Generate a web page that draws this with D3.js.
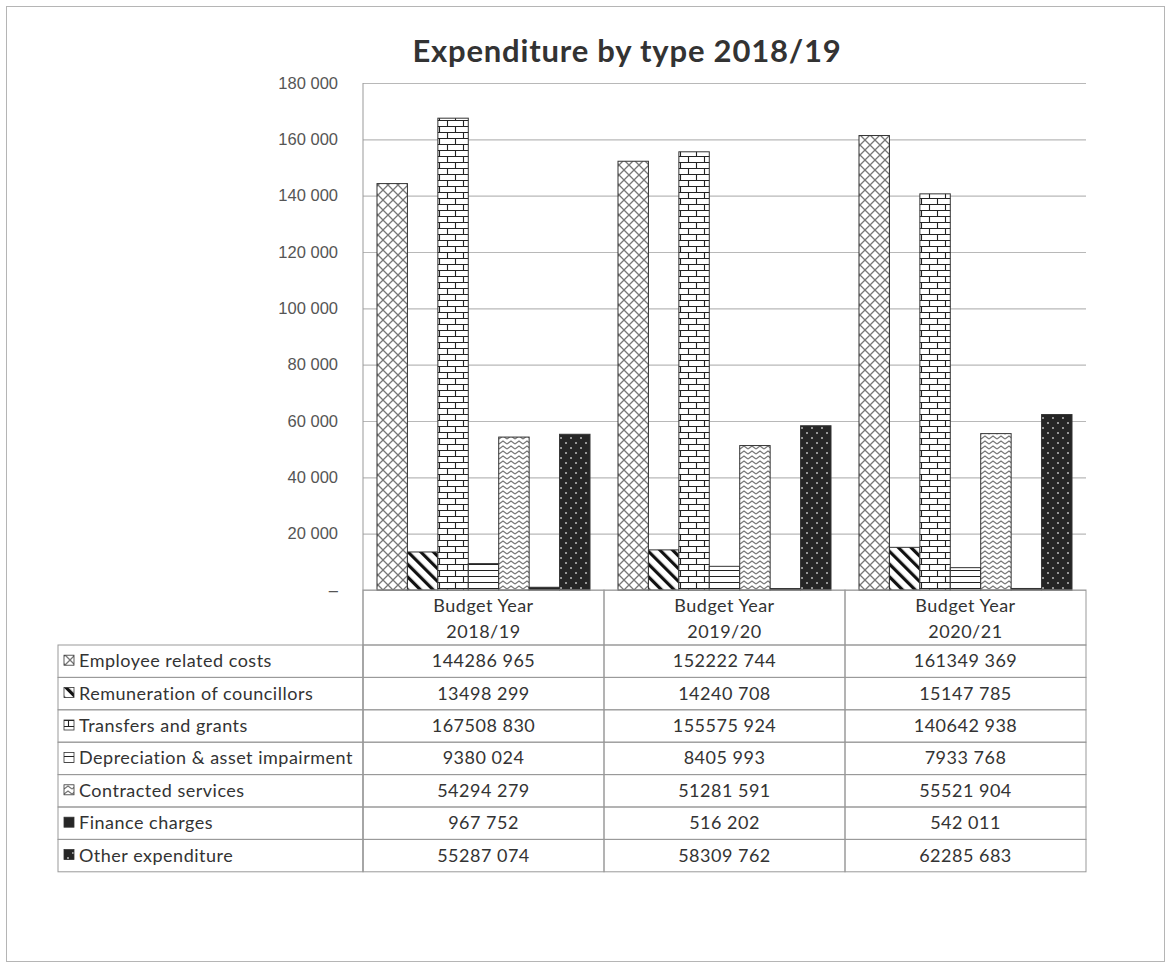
<!DOCTYPE html>
<html>
<head>
<meta charset="utf-8">
<script src="https://cdn.jsdelivr.net/npm/d3@7"></script>
<style>
  body { margin: 0; background: #fff; }
  svg { font-family: Lato, "Open Sans", sans-serif; }
</style>
</head>
<body>
<div id="chart"></div>
<script>
// Data, in rand (bars are drawn in R thousand)
const years = ['2018/19', '2019/20', '2020/21'];
const series = [
  'Employee related costs',
  'Remuneration of councillors',
  'Transfers and grants',
  'Depreciation & asset impairment',
  'Contracted services',
  'Finance charges',
  'Other expenditure'
];
const employeeCosts = [144286965, 152222744, 161349369];
const councillors = [13498299, 14240708, 15147785];
const transfers = [167508830, 155575924, 140642938];
const depreciation = [9380024, 8405993, 7933768];
const contracted = [54294279, 51281591, 55521904];
const finance = [967752, 516202, 542011];
const other = [55287074, 58309762, 62285683];
const values = [employeeCosts, councillors, transfers, depreciation, contracted, finance, other];
const yTicks = [0, 20000, 40000, 60000, 80000, 100000, 120000, 140000, 160000, 180000];

const width = 1169, height = 968;
const plot = {left: 363, right: 1086, top: 83, bottom: 590};
const table = {left: 58, headerBottom: 645, rowH: 32.4};

const svg = d3.select('#chart').append('svg')
  .attr('width', width)
  .attr('height', height);

// page frame
svg.append('rect')
  .attr('x', 6.5).attr('y', 6.5)
  .attr('width', 1158).attr('height', 955)
  .attr('fill', 'none').attr('stroke', '#b5b5b5');

// patterns
const defs = svg.append('defs');
function pattern(id, w, h) {
  return defs.append('pattern').attr('id', id)
    .attr('patternUnits', 'userSpaceOnUse')
    .attr('width', w).attr('height', h);
}
let p = pattern('p0', 10, 10);
p.append('rect').attr('width', 10).attr('height', 10).attr('fill', '#fff');
p.append('path').attr('d', 'M0,0L10,10M10,0L0,10').attr('stroke', '#777').attr('stroke-width', 1.3);

p = pattern('p1', 9, 9).attr('patternTransform', 'rotate(-45)');
p.append('rect').attr('width', 9).attr('height', 9).attr('fill', '#fff');
p.append('rect').attr('width', 3.2).attr('height', 9).attr('fill', '#111');

p = pattern('p2', 16, 12);
p.append('rect').attr('width', 16).attr('height', 12).attr('fill', '#fff');
p.append('path').attr('d', 'M0,0.5H16M0,6.5H16M4.5,0.5V6.5M12.5,6.5V12.5')
  .attr('stroke', '#222').attr('stroke-width', 1.1).attr('fill', 'none');

p = pattern('p3', 6, 6);
p.append('rect').attr('width', 6).attr('height', 6).attr('fill', '#fff');
p.append('path').attr('d', 'M0,0.5H6').attr('stroke', '#222').attr('stroke-width', 1);

p = pattern('p4', 8, 5);
p.append('rect').attr('width', 8).attr('height', 5).attr('fill', '#fff');
p.append('path').attr('d', 'M0,4L4,1L8,4').attr('stroke', '#777').attr('stroke-width', 1.2).attr('fill', 'none');

p = pattern('p5', 4, 4);
p.append('rect').attr('width', 4).attr('height', 4).attr('fill', '#262626');

p = pattern('p6', 10, 10);
p.append('rect').attr('width', 10).attr('height', 10).attr('fill', '#262626');
p.append('circle').attr('cx', 3).attr('cy', 3).attr('r', 1).attr('fill', '#bbb');
p.append('circle').attr('cx', 8).attr('cy', 8).attr('r', 1).attr('fill', '#bbb');

// scales
const x0 = d3.scaleBand().domain(years).range([plot.left, plot.right]);
const x1 = d3.scaleBand().domain(series).range([0, x0.bandwidth()])
  .paddingInner(0).paddingOuter(0.46);
const y = d3.scaleLinear().domain([0, 180000]).range([plot.bottom, plot.top]);

const loc = d3.formatLocale({decimal: '.', thousands: ' ', grouping: [3], currency: ['', '']});
const tickFmt = v => v === 0 ? '–' : loc.format(',')(v);
// table shows only the last group separated, as in the source
const cellFmt = v => { const s = String(v); return s.slice(0, -3) + ' ' + s.slice(-3); };

// gridlines + y axis
const yAxis = d3.axisLeft(y).tickValues(yTicks).tickFormat(tickFmt)
  .tickSize(-(plot.right - plot.left)).tickPadding(25);
const gy = svg.append('g')
  .attr('transform', `translate(${plot.left},0)`)
  .call(yAxis);
gy.select('.domain').remove();
gy.selectAll('.tick line').attr('stroke', '#b8b8b8').attr('stroke-width', 1.2);
gy.selectAll('.tick text').attr('fill', '#555').style('font-size', '16.5px');
svg.append('line')
  .attr('x1', plot.left).attr('x2', plot.left)
  .attr('y1', plot.top).attr('y2', table.headerBottom + table.rowH * 7)
  .attr('stroke', '#999');

// bars
const groups = svg.append('g').selectAll('g')
  .data(years).join('g')
  .attr('transform', d => `translate(${x0(d)},0)`);
groups.selectAll('rect')
  .data((yr, i) => series.map((s, j) => ({s, j, v: values[j][i] / 1000})))
  .join('rect')
  .attr('x', d => x1(d.s))
  .attr('width', x1.bandwidth())
  .attr('y', d => y(d.v))
  .attr('height', d => y(0) - y(d.v))
  .attr('fill', d => `url(#p${d.j})`)
  .attr('stroke', '#333')
  .attr('stroke-width', 1);

// title
svg.append('text')
  .attr('x', 627).attr('y', 62)
  .attr('text-anchor', 'middle')
  .attr('fill', '#333')
  .style('font-size', '31px')
  .style('font-weight', 'bold')
  .style('letter-spacing', '0.8px')
  .text('Expenditure by type 2018/19');

// data table
const tg = svg.append('g').attr('stroke', '#999').attr('fill', 'none');
years.forEach(yr => {
  tg.append('rect')
    .attr('x', x0(yr)).attr('y', plot.bottom)
    .attr('width', x0.bandwidth()).attr('height', table.headerBottom - plot.bottom);
});
series.forEach((s, j) => {
  const ty = table.headerBottom + j * table.rowH;
  tg.append('rect').attr('x', table.left).attr('y', ty)
    .attr('width', plot.left - table.left).attr('height', table.rowH);
  years.forEach(yr => {
    tg.append('rect').attr('x', x0(yr)).attr('y', ty)
      .attr('width', x0.bandwidth()).attr('height', table.rowH);
  });
});

const txt = svg.append('g').attr('fill', '#333')
  .style('font-size', '18px').style('letter-spacing', '0.5px');
years.forEach(yr => {
  const cx = x0(yr) + x0.bandwidth() / 2;
  txt.append('text').attr('x', cx).attr('y', 612).attr('text-anchor', 'middle').text('Budget Year');
  txt.append('text').attr('x', cx).attr('y', 638).attr('text-anchor', 'middle').text(yr);
});
series.forEach((s, j) => {
  const cy = table.headerBottom + j * table.rowH + table.rowH / 2 + 6;
  svg.append('rect')
    .attr('x', 64).attr('y', cy - 12)
    .attr('width', 10).attr('height', 10)
    .attr('fill', `url(#p${j})`).attr('stroke', '#333').attr('stroke-width', 0.8);
  txt.append('text').attr('x', 79).attr('y', cy).text(s);
  years.forEach((yr, i) => {
    txt.append('text')
      .attr('x', x0(yr) + x0.bandwidth() / 2).attr('y', cy)
      .attr('text-anchor', 'middle')
      .text(cellFmt(values[j][i]));
  });
});
</script>
</body>
</html>
